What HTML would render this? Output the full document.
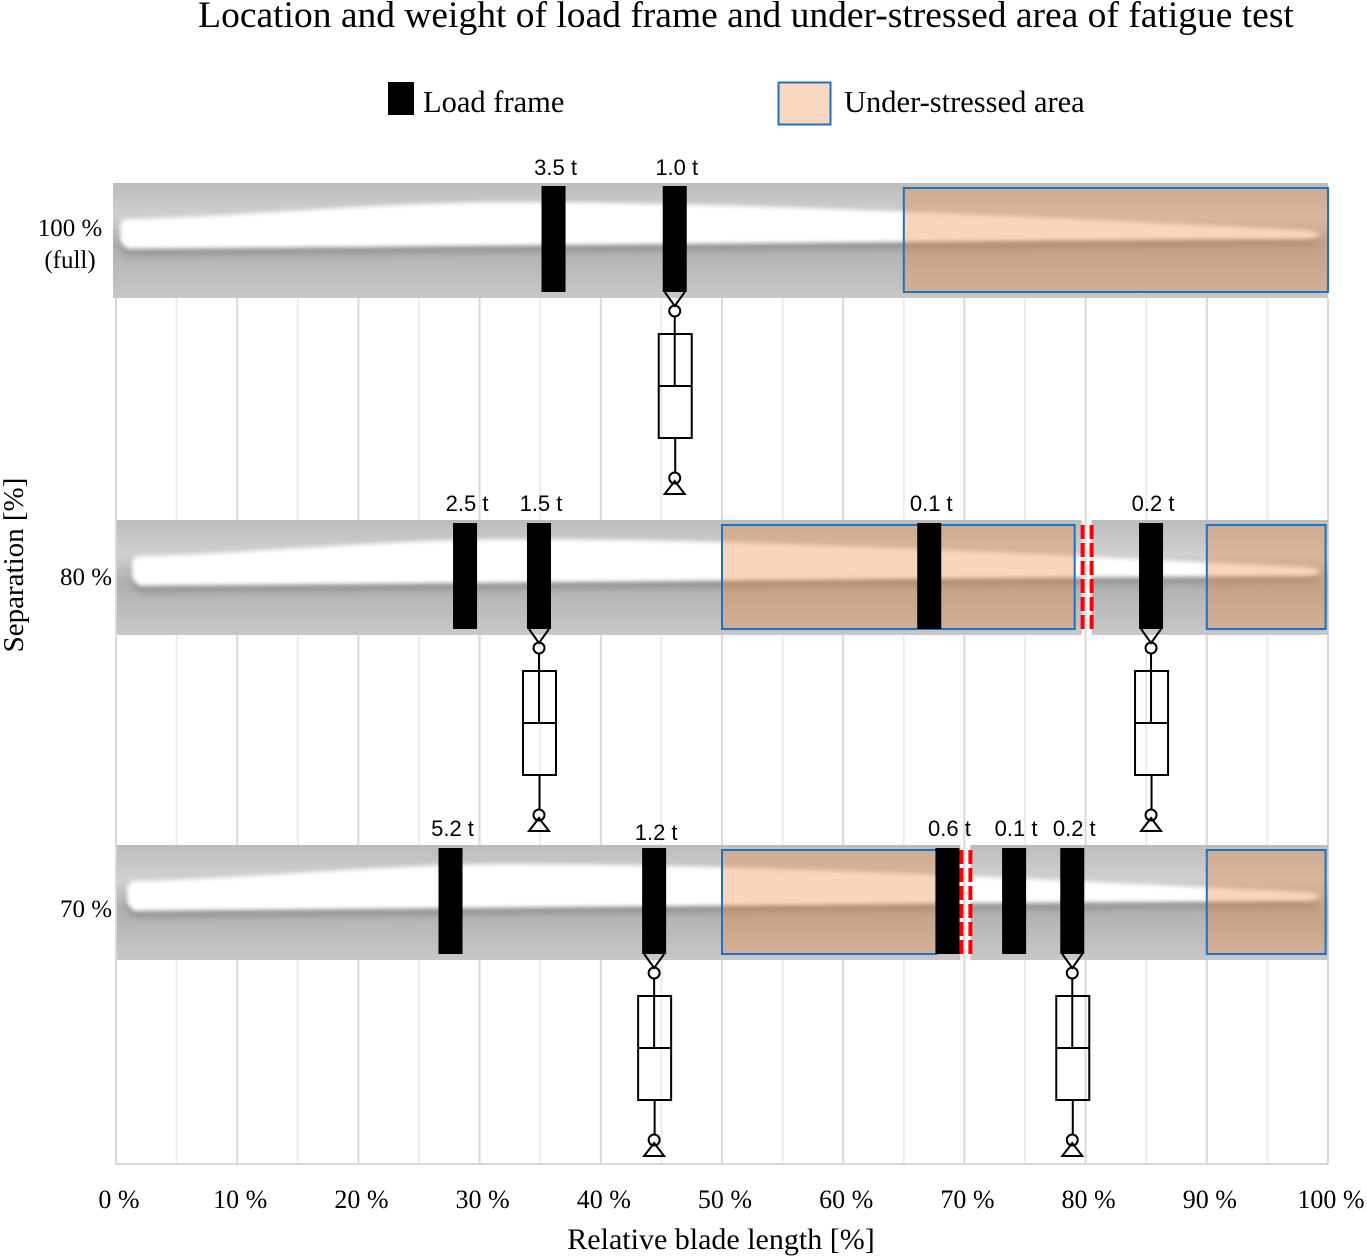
<!DOCTYPE html>
<html><head><meta charset="utf-8">
<style>
html,body{margin:0;padding:0;background:#fff;}
svg{display:block;}
text{font-family:"Liberation Serif",serif;fill:#000;}
.cal{font-family:"Liberation Sans",sans-serif;}
</style></head>
<body>
<svg id="chart" width="1367" height="1257" viewBox="0 0 1367 1257" xmlns="http://www.w3.org/2000/svg">
<defs>
<linearGradient id="bandGrad" x1="0" y1="0" x2="0" y2="1">
<stop offset="0" stop-color="#bcbcbc"/><stop offset="0.3" stop-color="#d0d0d0"/><stop offset="0.55" stop-color="#b0b0b0"/><stop offset="1" stop-color="#c8c8c8"/>
</linearGradient>
<filter id="blur1" x="-5%" y="-50%" width="110%" height="200%"><feGaussianBlur stdDeviation="2.2"/></filter>
<filter id="blur2" x="-5%" y="-50%" width="110%" height="200%"><feGaussianBlur stdDeviation="4"/></filter>
</defs>
<text x="746" y="27" text-anchor="middle" font-size="37.5">Location and weight of load frame and under-stressed area of fatigue test</text>
<g id="legend">
<rect x="388" y="82" width="26" height="33" fill="#000"/>
<text x="423" y="112" font-size="30.5">Load frame</text>
<rect x="778.5" y="82.5" width="52" height="42" fill="#fad8c0" stroke="#1a73c4" stroke-width="2"/>
<text x="844" y="112" font-size="30.5">Under-stressed area</text>
</g>
<g id="grid"></g>
<g id="rows"></g>
<g id="axes"></g>
</svg>
<script>
// ---- data ----
const xTicks = [0,10,20,30,40,50,60,70,80,90,100];
const rowLabels = [["100 %","(full)"],["80 %"],["70 %"]];
const rowSeparation = [100, 80, 70];
// load frame positions [% blade length] per row
const framePos = [[36.1, 46.1],[28.8, 34.9, 67.1, 85.4],[27.6, 44.4, 68.6, 74.1, 78.9]];
const frameWeight = [["3.5 t","1.0 t"],["2.5 t","1.5 t","0.1 t","0.2 t"],["5.2 t","1.2 t","0.6 t","0.1 t","0.2 t"]];
// under-stressed areas [start,end] in %
const underStart = [[65],[50, 90],[50, 90]];
const underEnd = [[100],[79.1, 99.8],[67.7, 99.8]];
// separation cut point (%) or null
const cutPos = [null, 80.0, 70.0];
// frame index carrying the test rig (box symbol)
const rigFrames = [[1],[1,3],[1,4]];

const NS="http://www.w3.org/2000/svg";
const X0=116, X1=1328;
function xs(p){return X0+(X1-X0)*p/100;}
function mk(tag,attrs,parent){const e=document.createElementNS(NS,tag);for(const k in attrs)e.setAttribute(k,attrs[k]);parent.appendChild(e);return e;}
const grid=document.getElementById('grid'), rows=document.getElementById('rows'), axes=document.getElementById('axes');

for(let p=5;p<=100;p+=5){
  const g=mk('line',{x1:xs(p),x2:xs(p),y1:298,y2:1164,stroke:p%10===0?'#d9d9d9':'#ececec','stroke-width':2},grid);
  
  
}
const ax=mk('line',{x1:X0,x2:X0,y1:298,y2:1165,stroke:'#d9d9d9','stroke-width':2},axes);


const bx=mk('line',{x1:X0,x2:X1,y1:1164,y2:1164,stroke:'#d9d9d9','stroke-width':2},axes);


xTicks.forEach(t=>{
  const tx=mk('text',{x:xs(t)+3,y:1208,'text-anchor':'middle','font-size':26},axes);
  tx.textContent=t+' %';
  
  
});
const xt=mk('text',{x:721,y:1249,'text-anchor':'middle','font-size':30},axes);
xt.textContent='Relative blade length [%]';


const yt=mk('text',{x:0,y:0,'text-anchor':'middle','font-size':29,transform:'translate(23,565) rotate(-90)'},axes);
yt.textContent='Separation [%]';



const bandTop=[183,520,845];
const bandLeft=[113,116,115];
const bladeStart=[118,130,125];
const labelY=[[175,175],[511,511,511,511],[836,840,836,836,836]];

function bladePath(x0,top){
  const L=X1-8-x0; const P=f=>x0+L*f;
  return `M${x0+8},${top+36} C${P(0.1)},${top+34} ${P(0.2)},${top+20} ${P(0.32)},${top+19} C${P(0.5)},${top+19} ${P(0.7)},${top+30} ${P(0.99)},${top+47} `+
   `Q${P(1.01)},${top+52} ${P(0.99)},${top+56} C${P(0.7)},${top+58} ${P(0.4)},${top+62} ${x0+10},${top+66} Q${x0},${top+60} ${x0+2},${top+50} Q${x0},${top+38} ${x0+8},${top+36}Z`;
}

framePos.forEach((fp,r)=>{
  const g=mk('g',{},rows);
  
  
  const top=bandTop[r], H=115;
  const clipId='clip'+r;
  const cp=mk('clipPath',{id:clipId},g);
  if(cutPos[r]===null){
    mk('rect',{x:bandLeft[r],y:top,width:X1-bandLeft[r],height:H},cp);
  }else{
    mk('rect',{x:bandLeft[r],y:top,width:xs(cutPos[r])-4-bandLeft[r],height:H},cp);
    mk('rect',{x:xs(cutPos[r])+6,y:top,width:X1-xs(cutPos[r])-6,height:H},cp);
  }
  const bg=mk('g',{'clip-path':`url(#${clipId})`},g);
  const band=mk('rect',{x:bandLeft[r],y:top,width:X1-bandLeft[r],height:H,fill:'url(#bandGrad)'},bg);
  
  
  mk('path',{d:bladePath(bladeStart[r],top+6),fill:'#6e6e6e',filter:'url(#blur2)',opacity:0.5},bg);
  const bl=mk('path',{d:bladePath(bladeStart[r],top),fill:'#ffffff',filter:'url(#blur1)'},bg);
  
  
  underStart[r].forEach((s,i)=>{
    const a=xs(s), b=xs(underEnd[r][i]);
    const ov=mk('rect',{x:a,y:top+5,width:b-a,height:H-11,fill:'rgb(237,131,60)','fill-opacity':0.34,stroke:'#1a73c4','stroke-width':2},g);
    
    
  });
  if(cutPos[r]!==null){
    const c=xs(cutPos[r]);
    [c-3,c+6].forEach(xx=>{
      const dl=mk('line',{x1:xx,x2:xx,y1:top+5,y2:top+H-5,stroke:'#ff0000','stroke-width':4,'stroke-dasharray':'14 4'},g);
      
      
    });
  }
  fp.forEach((p,i)=>{
    const cx=xs(p);
    const fr=mk('rect',{x:cx-12,y:top+3,width:24,height:106,fill:'#000'},g);
    
    
    const lb=mk('text',{x:cx+2,y:labelY[r][i],'text-anchor':'middle','font-size':22,class:'cal'},g);
    lb.textContent=frameWeight[r][i];
    
    
  });
  rigFrames[r].forEach(i=>{
    const cx=xs(fp[i]), yb=top+109;
    const rg=mk('g',{fill:'none',stroke:'#000','stroke-width':2},g);
    
    
    mk('path',{d:`M${cx-10},${yb} L${cx},${yb+14} L${cx+10},${yb}`},rg);
    mk('circle',{cx:cx,cy:yb+19,r:5.5},rg);
    mk('line',{x1:cx,x2:cx,y1:yb+24,y2:yb+94},rg);
    mk('rect',{x:cx-16,y:yb+42,width:33,height:104},rg);
    mk('line',{x1:cx-16,x2:cx+17,y1:yb+94,y2:yb+94},rg);
    mk('line',{x1:cx+0.5,x2:cx+0.5,y1:yb+146,y2:yb+180},rg);
    mk('circle',{cx:cx,cy:yb+186,r:5.5},rg);
    mk('path',{d:`M${cx},${yb+189} L${cx-10},${yb+202} L${cx+10},${yb+202}Z`},rg);
  });
  const ly=[[236,268],[585],[917]][r];
  rowLabels[r].forEach((t,k)=>{
    const tl=mk('text',{x:r===0?70:86,y:ly[k],'text-anchor':'middle','font-size':25},g);
    tl.textContent=t;
    
    
  });
});
</script>
</body></html>
